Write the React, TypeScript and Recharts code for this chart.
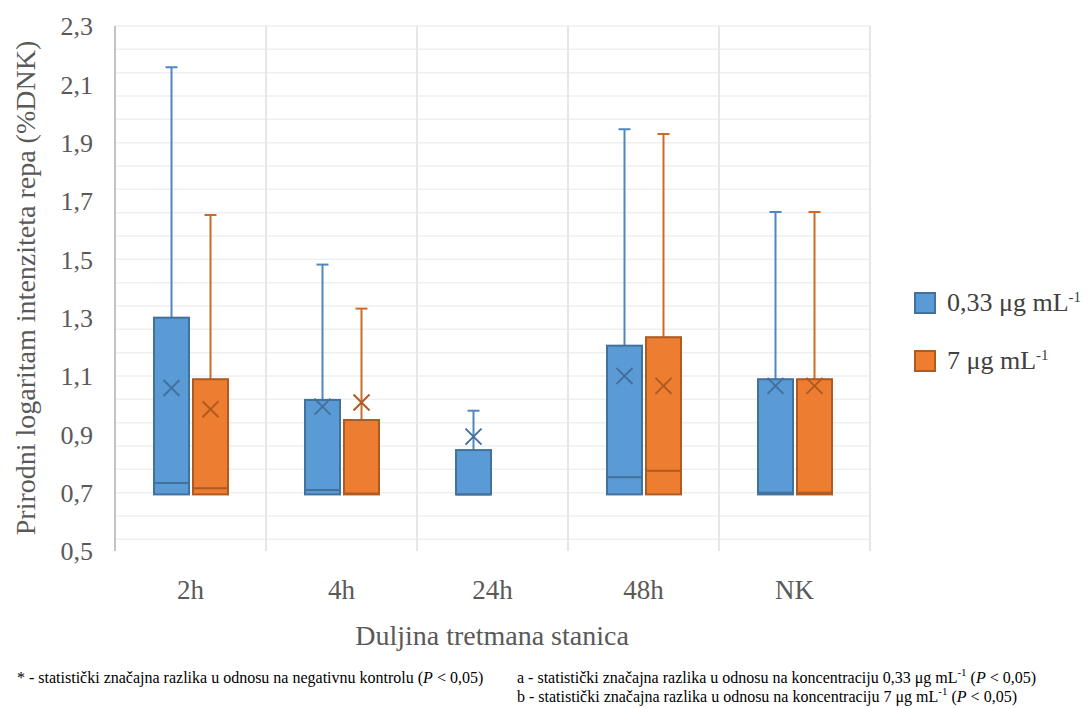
import React from 'react';
import {
  ComposedChart,
  Bar,
  XAxis,
  YAxis,
  CartesianGrid,
  ReferenceLine
} from 'recharts';

// categories and box-plot statistics
const categories = ['2h', '4h', '24h', '48h', 'NK'];

const blueQ1 = [0.694, 0.694, 0.694, 0.694, 0.694];
const blueMedian = [0.733, 0.709, 0.694, 0.753, 0.7];
const blueQ3 = [1.3, 1.018, 0.846, 1.204, 1.089];
const blueMax = [2.159, 1.482, 0.981, 1.946, 1.662];
const blueMean = [1.059, 0.995, 0.892, 1.1, 1.066];

const orangeQ1 = [0.694, 0.694, null, 0.694, 0.694];
const orangeMedian = [0.715, 0.697, null, 0.775, 0.7];
const orangeQ3 = [1.089, 0.949, null, 1.233, 1.089];
const orangeMax = [1.652, 1.331, null, 1.93, 1.662];
const orangeMean = [0.986, 1.009, null, 1.066, 1.066];

const yTicks = [0.5, 0.7, 0.9, 1.1, 1.3, 1.5, 1.7, 1.9, 2.1, 2.3];

const FONT = '"Liberation Serif", serif';

// minor gridlines (Excel style, major / 5)
const minorGrid = Array.from({ length: 46 }, (_, i) => Math.round((0.5 + i * 0.04) * 100) / 100);

const data = categories.map((name, i) => ({
  name,
  idx: i,
  blue: [blueQ1[i], blueQ3[i]],
  orange: orangeQ3[i] == null ? null : [orangeQ1[i], orangeQ3[i]]
}));

const SERIES: any = {
  blue: {
    q1: blueQ1, q3: blueQ3, median: blueMedian, max: blueMax, mean: blueMean,
    fill: '#5B9BD5', stroke: '#41719C', whisker: '#4F86C0'
  },
  orange: {
    q1: orangeQ1, q3: orangeQ3, median: orangeMedian, max: orangeMax, mean: orangeMean,
    fill: '#ED7D31', stroke: '#AE5A21', whisker: '#CC6A28'
  }
};

const BoxShape = (props: any) => {
  const { x, y, width, height, payload, series } = props;
  const s = SERIES[series];
  const index = payload?.idx;
  if (index == null) return null;
  const q1 = s.q1[index];
  const q3 = s.q3[index];
  if (q1 == null || q3 == null || !isFinite(height)) return null;
  const top = Math.min(y, y + height);
  const bottom = Math.max(y, y + height);
  const k = (bottom - top) / (q3 - q1);
  const toY = (v: number) => bottom - (v - q1) * k;
  const cx = x + width / 2;
  const yMax = toY(s.max[index]);
  const yMed = toY(s.median[index]);
  const yMean = toY(s.mean[index]);
  const m = 8;
  return (
    <g>
      <line x1={cx} x2={cx} y1={yMax} y2={top} stroke={s.whisker} strokeWidth={2} />
      <line x1={cx - 6} x2={cx + 6} y1={yMax} y2={yMax} stroke={s.whisker} strokeWidth={2} />
      <rect x={x} y={top} width={width} height={bottom - top} fill={s.fill} stroke={s.stroke} strokeWidth={2} />
      <line x1={x} x2={x + width} y1={yMed} y2={yMed} stroke={s.stroke} strokeWidth={2} />
      <line x1={cx - m} x2={cx + m} y1={yMean - m} y2={yMean + m} stroke={s.stroke} strokeWidth={2} />
      <line x1={cx - m} x2={cx + m} y1={yMean + m} y2={yMean - m} stroke={s.stroke} strokeWidth={2} />
    </g>
  );
};

const fmt = (v: number) => v.toFixed(1).replace('.', ',');

const Sup = ({ children, size }: any) => (
  <span style={{ fontSize: size, position: 'relative', top: -size * 0.6, lineHeight: 0 }}>{children}</span>
);

export default function App() {
  return (
    <div style={{ position: 'absolute', left: 0, top: 0, width: 1089, height: 708, background: '#fff', fontFamily: FONT }}>
      <ComposedChart
        width={1089}
        height={660}
        data={data}
        margin={{ top: 26, right: 219, left: 45, bottom: 49 }}
        barSize={35}
        barGap={4}
        style={{ position: 'absolute', left: 0, top: 0 }}
      >
        <CartesianGrid vertical={false} horizontalValues={minorGrid} stroke="#efefef" strokeWidth={1.5} />
        <XAxis
          dataKey="name"
          height={60}
          axisLine={false}
          tickLine={false}
          tickSize={0}
          tickMargin={29}
          tick={{ fill: '#595959', fontSize: 27, fontFamily: FONT }}
        />
        <YAxis
          domain={[0.5, 2.3]}
          ticks={yTicks}
          width={70}
          allowDataOverflow
          tickFormatter={fmt}
          axisLine={{ stroke: '#c4c4c4', strokeWidth: 2 }}
          tickLine={false}
          tickSize={0}
          tickMargin={22}
          tick={{ fill: '#595959', fontSize: 26, fontFamily: FONT }}
        />
        {categories.map((c) => (
          <ReferenceLine key={c} x={c} position="start" stroke="#e6e6e6" strokeWidth={2} />
        ))}
        <ReferenceLine x={categories[categories.length - 1]} position="end" stroke="#e6e6e6" strokeWidth={2} />
        <Bar dataKey="blue" isAnimationActive={false} shape={(p: any) => <BoxShape {...p} series="blue" />} />
        <Bar dataKey="orange" isAnimationActive={false} shape={(p: any) => <BoxShape {...p} series="orange" />} />
      </ComposedChart>

      {/* y-axis title */}
      <div
        style={{
          position: 'absolute', left: 26, top: 288, transform: 'translate(-50%, -50%) rotate(-90deg)',
          whiteSpace: 'nowrap', fontSize: 28, color: '#595959'
        }}
      >
        Prirodni logaritam intenziteta repa (%DNK)
      </div>

      {/* x-axis title */}
      <div
        style={{
          position: 'absolute', left: 492, top: 636, transform: 'translate(-50%, -50%)',
          whiteSpace: 'nowrap', fontSize: 28, color: '#595959'
        }}
      >
        Duljina tretmana stanica
      </div>

      {/* legend */}
      <div style={{ position: 'absolute', left: 914, top: 290, fontSize: 26, color: '#404040' }}>
        <div style={{ display: 'flex', alignItems: 'center', height: 26 }}>
          <span style={{ width: 18, height: 18, background: '#5B9BD5', border: '2px solid #41719C', marginRight: 11 }} />
          <span>0,33 μg mL<Sup size={15}>-1</Sup></span>
        </div>
        <div style={{ display: 'flex', alignItems: 'center', height: 26, marginTop: 32 }}>
          <span style={{ width: 18, height: 18, background: '#ED7D31', border: '2px solid #AE5A21', marginRight: 11 }} />
          <span>7 μg mL<Sup size={15}>-1</Sup></span>
        </div>
      </div>

      {/* footnotes */}
      <div style={{ position: 'absolute', left: 17, top: 668, fontSize: 16, lineHeight: '19px', color: '#000', whiteSpace: 'nowrap' }}>
        * - statistički značajna razlika u odnosu na negativnu kontrolu (<i>P</i> &lt; 0,05)
      </div>
      <div style={{ position: 'absolute', left: 517, top: 668, fontSize: 16, color: '#000', whiteSpace: 'nowrap', lineHeight: '19px' }}>
        <div>a - statistički značajna razlika u odnosu na koncentraciju 0,33 μg mL<Sup size={11}>-1</Sup> (<i>P</i> &lt; 0,05)</div>
        <div>b - statistički značajna razlika u odnosu na koncentraciju 7 μg mL<Sup size={11}>-1</Sup> (<i>P</i> &lt; 0,05)</div>
      </div>
    </div>
  );
}
